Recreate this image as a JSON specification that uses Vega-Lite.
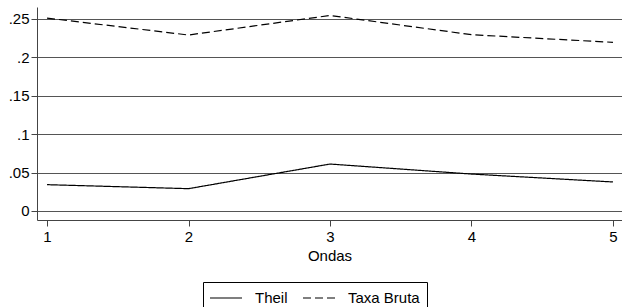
{
  "$schema": "https://vega.github.io/schema/vega-lite/v6.json",
  "width": 585,
  "height": 213,
  "autosize": "none",
  "padding": {"left": 37, "top": 7, "right": 0, "bottom": 87},
  "background": "white",
  "config": {"view": {"stroke": null}, "font": "Liberation Sans"},
  "data": {
    "values": [
      {"onda": 1, "serie": "Theil", "valor": 0.0342},
      {"onda": 2, "serie": "Theil", "valor": 0.0290},
      {"onda": 3, "serie": "Theil", "valor": 0.0610},
      {"onda": 4, "serie": "Theil", "valor": 0.0480},
      {"onda": 5, "serie": "Theil", "valor": 0.0377},
      {"onda": 1, "serie": "Taxa Bruta", "valor": 0.2506},
      {"onda": 2, "serie": "Taxa Bruta", "valor": 0.2286},
      {"onda": 3, "serie": "Taxa Bruta", "valor": 0.2540},
      {"onda": 4, "serie": "Taxa Bruta", "valor": 0.2290},
      {"onda": 5, "serie": "Taxa Bruta", "valor": 0.2191}
    ]
  },
  "mark": {"type": "line", "color": "black", "strokeWidth": 1.2},
  "encoding": {
    "x": {
      "field": "onda",
      "type": "quantitative",
      "scale": {"domain": [0.929, 5.064], "nice": false, "zero": false},
      "axis": {
        "values": [1, 2, 3, 4, 5],
        "format": "d",
        "title": "Ondas",
        "grid": false,
        "domainColor": "#444",
        "tickColor": "#444",
        "tickSize": 6,
        "labelFontSize": 15,
        "labelColor": "black",
        "labelPadding": 3,
        "titleFontSize": 15,
        "titleFontWeight": "normal",
        "titleColor": "black",
        "titlePadding": 4
      }
    },
    "y": {
      "field": "valor",
      "type": "quantitative",
      "scale": {"domain": [-0.0117, 0.265], "nice": false, "zero": false},
      "axis": {
        "values": [0, 0.05, 0.1, 0.15, 0.2, 0.25],
        "labelExpr": "datum.value == 0 ? '0' : substring(format(datum.value, '.2~f'), 1)",
        "title": null,
        "grid": true,
        "gridColor": "#555",
        "gridOpacity": 1,
        "gridWidth": 1,
        "domainColor": "#444",
        "tickColor": "#444",
        "tickSize": 6,
        "labelFontSize": 15,
        "labelColor": "black",
        "labelPadding": 2
      }
    },
    "strokeDash": {
      "field": "serie",
      "type": "nominal",
      "scale": {"domain": ["Theil", "Taxa Bruta"], "range": [[1, 0], [8, 4]]},
      "legend": {
        "title": null,
        "orient": "none",
        "legendX": 166,
        "legendY": 275,
        "direction": "horizontal",
        "strokeColor": "black",
        "fillColor": "white",
        "padding": 7,
        "symbolType": "M-2,0H2",
        "symbolSize": 256,
        "symbolOffset": 7,
        "symbolStrokeWidth": 1.2,
        "symbolStrokeColor": "black",
        "labelFontSize": 15,
        "labelColor": "black",
        "labelOffset": 20,
        "columnPadding": 12
      }
    }
  }
}
